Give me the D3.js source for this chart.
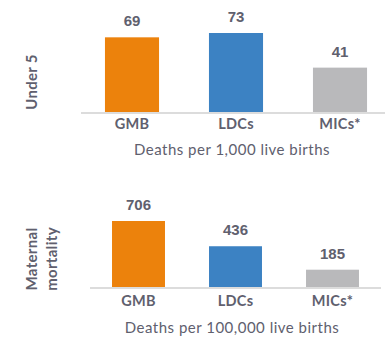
<!DOCTYPE html>
<html><head><meta charset="utf-8">
<script src="https://cdn.jsdelivr.net/npm/d3@7"></script>
<style>body{margin:0;background:#fff;}svg{display:block;}</style>
</head><body>
<svg id="c" width="385" height="337"></svg>
<script>
const categories = ["GMB", "LDCs", "MICs*"];
const colors = ["#EC820C", "#3C82C3", "#B9B9BB"];
const under5Values = [69, 73, 41];
const maternalValues = [706, 436, 185];
const under5Title = ["Under 5"];
const maternalTitle = ["Maternal", "mortality"];
const under5Unit = "Deaths per 1,000 live births";
const maternalUnit = "Deaths per 100,000 live births";

const svg = d3.select("#c");
const textColor = "#60606e";

function panel(cfg) {
  const x = d3.scaleBand().domain(categories).range(cfg.xr)
    .paddingInner(cfg.pi).paddingOuter(cfg.pi / 2);
  const y = d3.scaleLinear().domain([0, d3.max(cfg.values)]).range([cfg.base, cfg.top]);
  const g = svg.append("g");
  g.selectAll("rect").data(cfg.values).join("rect")
    .attr("x", (d, i) => x(categories[i]))
    .attr("y", d => y(d))
    .attr("width", x.bandwidth())
    .attr("height", d => y(0) - y(d))
    .attr("fill", (d, i) => colors[i]);
  g.append("line").attr("x1", cfg.axisX[0]).attr("x2", cfg.axisX[1])
    .attr("y1", cfg.base + 1).attr("y2", cfg.base + 1)
    .attr("stroke", "#dcdcdc").attr("stroke-width", 2);
  g.selectAll("text.val").data(cfg.values).join("text").attr("class", "val")
    .attr("x", (d, i) => x(categories[i]) + x.bandwidth() / 2)
    .attr("y", d => y(d) - 11)
    .attr("text-anchor", "middle")
    .attr("font-family", "Liberation Sans, Arial, sans-serif")
    .attr("font-weight", "bold").attr("font-size", 15)
    .attr("fill", textColor).text(d => d);
  g.selectAll("text.cat").data(categories).join("text").attr("class", "cat")
    .attr("x", d => x(d) + x.bandwidth() / 2)
    .attr("y", cfg.catY)
    .attr("text-anchor", "middle")
    .attr("font-family", "Lato, sans-serif")
    .attr("font-weight", "bold").attr("font-size", 14.5)
    .attr("letter-spacing", 0.3)
    .attr("fill", textColor).text(d => d);
  g.append("text").attr("x", 232).attr("y", cfg.unitY)
    .attr("text-anchor", "middle")
    .attr("font-family", "Lato, sans-serif").attr("font-size", 15)
    .attr("letter-spacing", 0.5)
    .attr("fill", textColor).text(cfg.unit);
  const t = g.append("text")
    .attr("transform", `translate(${cfg.titleX},${cfg.titleY}) rotate(-90)`)
    .attr("text-anchor", "middle")
    .attr("font-family", "Lato, sans-serif")
    .attr("font-weight", "bold").attr("font-size", 15)
    .attr("letter-spacing", 0.3)
    .attr("fill", textColor);
  cfg.title.forEach((s, i) => {
    t.append("tspan").attr("x", 0).attr("dy", i === 0 ? 0 : 20).text(s);
  });
}

panel({values: under5Values, xr: [80, 392], pi: 0.48, base: 112, top: 33,
  axisX: [81, 385], catY: 129, unitY: 155, unit: under5Unit,
  title: under5Title, titleX: 37, titleY: 82});
panel({values: maternalValues, xr: [90, 381], pi: 0.454, base: 287, top: 221,
  axisX: [90, 381], catY: 306, unitY: 333, unit: maternalUnit,
  title: maternalTitle, titleX: 37, titleY: 259});
</script>
</body></html>
